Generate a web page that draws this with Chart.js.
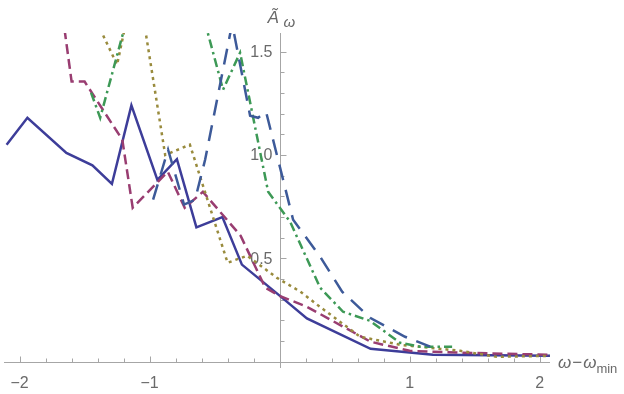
<!DOCTYPE html>
<html>
<head>
<meta charset="utf-8">
<script src="https://cdn.jsdelivr.net/npm/chart.js@4"></script>
<style>
  html, body { margin: 0; padding: 0; background: #fff; }
  #wrap { width: 624px; height: 394px; }
</style>
</head>
<body>
<div id="wrap"><canvas id="chart"></canvas></div>
<script>
// values: x = ω − ω_min, y = Ã_ω
const solidX = [-2.10, -1.94, -1.64, -1.44, -1.29, -1.14, -0.94, -0.79, -0.64, -0.44, -0.29, 0.00, 0.21, 0.70, 1.18, 2.08];
const solidY = [1.05, 1.18, 1.01, 0.95, 0.86, 1.24, 0.88, 0.98, 0.65, 0.70, 0.47, 0.32, 0.21, 0.063, 0.034, 0.029];

const dashedX = [-1.67, -1.60, -1.50, -1.21, -1.13, -0.86, -0.73, -0.59, -0.30, -0.11, 0.00, 0.21, 0.70, 1.00, 1.39, 2.08];
const dashedY = [1.68, 1.355, 1.355, 1.074, 0.745, 0.919, 0.745, 0.822, 0.610, 0.358, 0.319, 0.266, 0.097, 0.053, 0.044, 0.034];

const dottedX = [-1.45, -1.25, -1.165, -1.065, -0.88, -0.69, -0.40, -0.25, -0.02, 0.16, 0.31, 0.62, 0.93, 1.39, 1.67, 2.08];
const dottedY = [1.70, 1.437, 1.69, 1.73, 1.00, 1.05, 0.479, 0.513, 0.406, 0.339, 0.266, 0.121, 0.082, 0.053, 0.024, 0.029];

const dotDashX = [-1.45, -1.38, -1.135, -0.612, -0.435, -0.304, -0.088, 0.081, 0.312, 0.488, 0.696, 0.927, 1.081, 1.327];
const dotDashY = [1.301, 1.180, 1.75, 1.73, 1.316, 1.495, 0.822, 0.677, 0.358, 0.242, 0.198, 0.092, 0.073, 0.073];

const longDashX = [-0.973, -0.858, -0.735, -0.65, -0.573, -0.365, -0.227, -0.165, -0.104, 0.104, 0.312, 0.481, 0.696, 0.965, 1.158];
const longDashY = [0.784, 1.026, 0.760, 0.784, 0.977, 1.635, 1.190, 1.180, 1.209, 0.687, 0.508, 0.339, 0.213, 0.121, 0.073];

const xMajorTicks = [-2, -1, 1, 2];
const xTickLabels = ['\u22122', '\u22121', '1', '2'];
const yMajorTicks = [0.5, 1.0, 1.5];
const yTickLabels = ['0.5', '1.0', '1.5'];

const axisColor = '#a6a6a6';
const labelColor = '#6a6a6a';

const toPoints = (xs, ys) => xs.map((x, i) => ({ x: x, y: ys[i] }));

const series = [
    { data: toPoints(solidX, solidY), color: 'rgb(61,61,153)', dash: [] },
    { data: toPoints(dashedX, dashedY), color: 'rgb(153,61,113)', dash: [10, 5] },
    { data: toPoints(dottedX, dottedY), color: 'rgb(153,139,61)', dash: [3, 4] },
    { data: toPoints(dotDashX, dotDashY), color: 'rgb(61,153,86)', dash: [9, 4, 2.5, 4] },
    { data: toPoints(longDashX, longDashY), color: 'rgb(61,90,153)', dash: [16, 10] }
];

// axes cross at the origin, ticks point inwards, labels like Mathematica
const axesAtOrigin = {
    id: 'axesAtOrigin',
    beforeDatasetsDraw(chart) {
        const { ctx, chartArea, scales: { x, y } } = chart;
        const x0 = Math.round(x.getPixelForValue(0)) + 0.5;
        const y0 = Math.round(y.getPixelForValue(0)) + 0.5;
        ctx.save();
        ctx.strokeStyle = axisColor;
        ctx.lineWidth = 1;
        ctx.beginPath();
        ctx.moveTo(chartArea.left, y0);
        ctx.lineTo(chartArea.right, y0);
        ctx.moveTo(x0, chartArea.top);
        ctx.lineTo(x0, chartArea.bottom);
        for (let i = -10; i <= 10; i++) {
            if (i === 0) continue;
            const px = Math.round(x.getPixelForValue(i * 0.2)) + 0.5;
            const len = i % 5 === 0 ? 6 : 4;
            ctx.moveTo(px, y0);
            ctx.lineTo(px, y0 - len);
        }
        for (let j = 1; j <= 15; j++) {
            const py = Math.round(y.getPixelForValue(j * 0.1)) + 0.5;
            const len = j % 5 === 0 ? 6 : 4;
            ctx.moveTo(x0, py);
            ctx.lineTo(x0 + len, py);
        }
        ctx.stroke();

        ctx.fillStyle = labelColor;
        ctx.font = '16px "Liberation Sans", Arial, sans-serif';
        ctx.textAlign = 'center';
        ctx.textBaseline = 'alphabetic';
        xMajorTicks.forEach((v, i) => {
            ctx.fillText(xTickLabels[i], x.getPixelForValue(v), y0 + 25);
        });
        ctx.textAlign = 'right';
        ctx.textBaseline = 'middle';
        yMajorTicks.forEach((v, i) => {
            ctx.fillText(yTickLabels[i], x0 - 8, y.getPixelForValue(v) + 1);
        });

        // axis titles
        ctx.textAlign = 'left';
        ctx.textBaseline = 'alphabetic';
        ctx.font = 'italic 17px "Liberation Sans", Arial, sans-serif';
        ctx.fillText('\u00C3', x0 - 13, 23);
        ctx.font = 'italic 15px "Liberation Sans", Arial, sans-serif';
        ctx.fillText('\u03C9', x0 + 3, 27);

        let tx = chartArea.right + 8;
        const ty = y0 + 5;
        ctx.font = 'italic 17px "Liberation Sans", Arial, sans-serif';
        ctx.fillText('\u03C9', tx, ty);
        tx += ctx.measureText('\u03C9').width + 1;
        ctx.font = '17px "Liberation Sans", Arial, sans-serif';
        ctx.fillText('\u2212', tx, ty);
        tx += ctx.measureText('\u2212').width + 1;
        ctx.font = 'italic 17px "Liberation Sans", Arial, sans-serif';
        ctx.fillText('\u03C9', tx, ty);
        tx += ctx.measureText('\u03C9').width;
        ctx.font = '13px "Liberation Sans", Arial, sans-serif';
        ctx.fillText('min', tx, ty + 5);
        ctx.restore();
    }
};

new Chart(document.getElementById('chart'), {
    type: 'line',
    data: {
        datasets: series.map((s, i) => ({
            data: s.data,
            borderColor: s.color,
            borderDash: s.dash,
            borderWidth: 2.5,
            pointRadius: 0,
            tension: 0,
            fill: false,
            order: series.length - i
        }))
    },
    options: {
        responsive: true,
        maintainAspectRatio: false,
        animation: false,
        events: [],
        layout: { padding: { left: 4, right: 74, top: 33, bottom: 26 } },
        scales: {
            x: { type: 'linear', min: -2.12, max: 2.08, display: false },
            y: { type: 'linear', min: -0.03, max: 1.59, display: false }
        },
        plugins: {
            legend: { display: false },
            tooltip: { enabled: false }
        }
    },
    plugins: [axesAtOrigin]
});
</script>
</body>
</html>
